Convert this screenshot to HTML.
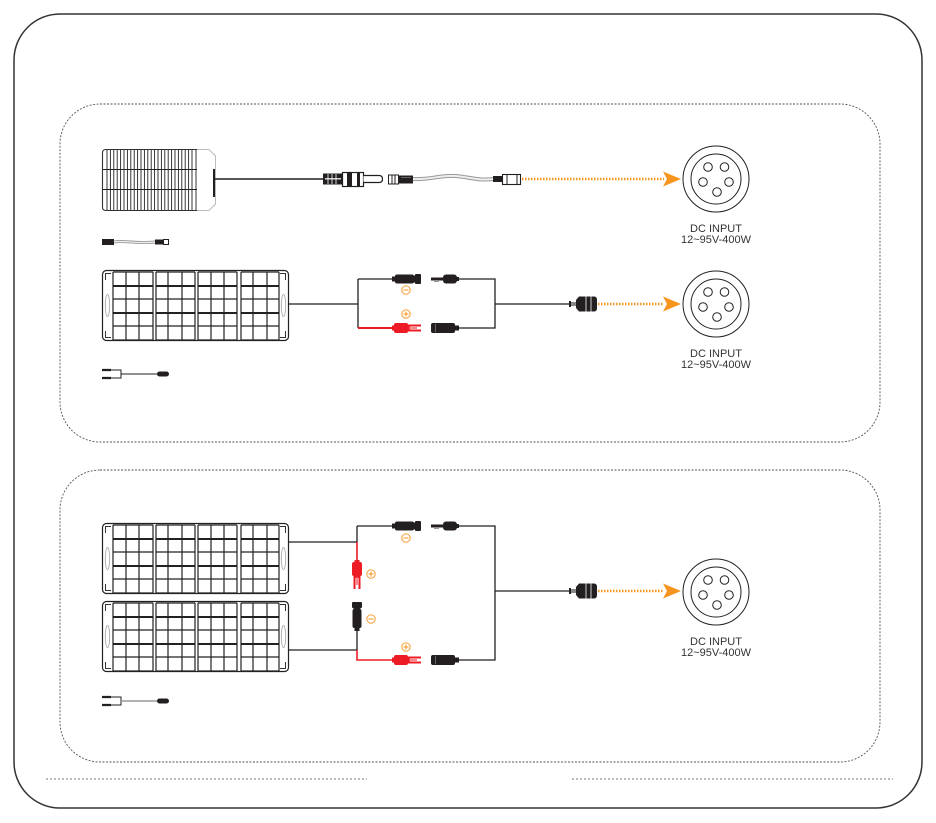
<!DOCTYPE html>
<html><head><meta charset="utf-8"><style>
html,body{margin:0;padding:0;background:#fff;}
svg{display:block;}
text{font-family:"Liberation Sans",sans-serif;font-size:11px;fill:#333;}
</style></head><body>
<svg width="936" height="823" viewBox="0 0 936 823" xmlns="http://www.w3.org/2000/svg">
<defs>
  <g id="panel">
    <rect x="0.5" y="0.5" width="186" height="70" rx="4" fill="#fff" stroke="#222" stroke-width="1.2"/>
    <path d="M3.5,10V3.5H9 M3.5,61V67.5H9 M183.5,10V3.5H178 M183.5,61V67.5H178" fill="none" stroke="#333" stroke-width="1"/>
    <ellipse cx="5.5" cy="35.5" rx="2.2" ry="11" fill="none" stroke="#aaa" stroke-width="0.9"/>
    <ellipse cx="181.5" cy="35.5" rx="2.2" ry="11" fill="none" stroke="#aaa" stroke-width="0.9"/>
    <path fill="none" stroke="#222" stroke-width="1.2" d="
      M11,2V70 M24,2V70 M37,2V70 M51,2V70 M11,2H51 M11,29H51 M11,56H51 M11,70H51
      M54,2V70 M66,2V70 M80,2V70 M93,2V70 M54,2H93 M54,29H93 M54,56H93 M54,70H93
      M96,2V70 M109,2V70 M122,2V70 M135,2V70 M96,2H135 M96,29H135 M96,56H135 M96,70H135
      M139,2V70 M151,2V70 M165,2V70 M177,2V70 M139,2H177 M139,29H177 M139,56H177 M139,70H177"/>
    <path fill="none" stroke="#222" stroke-width="2" d="M11,16H51 M11,43H51 M54,16H93 M54,43H93 M96,16H135 M96,43H135 M139,16H177 M139,43H177"/>
  </g>
  <g id="fem">
    <rect x="0" y="-2.5" width="4" height="5" fill="#231f20"/>
    <rect x="3" y="-4.5" width="19" height="9" rx="2" fill="#231f20"/>
    <rect x="21" y="-3.5" width="3" height="7" fill="#231f20"/>
    <rect x="23" y="-5" width="6" height="10" rx="1" fill="#231f20"/>
  </g>
  <g id="redm">
    <rect x="0" y="-2.5" width="3" height="5" fill="#ed1c24"/>
    <rect x="2" y="-5" width="14" height="10" rx="2" fill="#ed1c24"/>
    <rect x="15" y="-3.5" width="3" height="7" fill="#ed1c24"/>
    <rect x="17" y="-3.5" width="12" height="2" fill="#ed1c24"/>
    <rect x="17" y="1.5" width="12" height="2" fill="#ed1c24"/>
    <rect x="17" y="-0.8" width="8" height="1.6" fill="#f36a70"/>
  </g>
  <g id="malr">
    <rect x="0" y="-1.5" width="14" height="3" fill="#231f20"/>
    <rect x="3" y="2" width="5" height="1" fill="#999"/>
    <rect x="12" y="-4.5" width="14" height="9" rx="3" fill="#231f20"/>
    <rect x="25" y="-2" width="3" height="4" fill="#231f20"/>
  </g>
  <g id="femr">
    <rect x="0" y="-5" width="24" height="10" rx="2" fill="#231f20"/>
    <rect x="4" y="-4" width="1" height="8" fill="#666"/>
    <rect x="23" y="-2.5" width="5" height="5" fill="#231f20"/>
  </g>
  <g id="plug">
    <rect x="0" y="-3" width="2" height="6" fill="#231f20"/>
    <rect x="2" y="-2" width="5" height="4" fill="#888"/>
    <path d="M7,-4 L10,-7.5 H25 Q28,-7.5 28,-4 V4 Q28,7.5 25,7.5 H10 L7,4 Z" fill="#231f20"/>
    <rect x="16" y="-7.5" width="2" height="15" fill="#777"/>
    <rect x="21" y="-7.5" width="2" height="15" fill="#777"/>
  </g>
  <g id="dcin">
    <circle cx="0" cy="0" r="33" fill="#fff" stroke="#222" stroke-width="1"/>
    <circle cx="0" cy="0" r="25" fill="none" stroke="#222" stroke-width="1"/>
    <circle cx="-8" cy="-12" r="4.3" fill="none" stroke="#222" stroke-width="1"/>
    <circle cx="8.5" cy="-12" r="4.3" fill="none" stroke="#222" stroke-width="1"/>
    <circle cx="-13" cy="3" r="4.3" fill="none" stroke="#222" stroke-width="1"/>
    <circle cx="13" cy="3" r="4.3" fill="none" stroke="#222" stroke-width="1"/>
    <circle cx="1" cy="13" r="4.3" fill="none" stroke="#222" stroke-width="1"/>
  </g>
  <g id="minus"><circle r="4.2" fill="none" stroke="#f7941d" stroke-width="0.9"/><path d="M-2.5,0H2.5" stroke="#f7941d" stroke-width="1"/></g>
  <g id="plus"><circle r="4.2" fill="none" stroke="#f7941d" stroke-width="0.9"/><path d="M-2.5,0H2.5M0,-2.5V2.5" stroke="#f7941d" stroke-width="1"/></g>
  <g id="arrow"><polygon points="0,-7.5 18,0 0,7.5 4,0" fill="#f7941d"/></g>
  <g id="icon2">
    <path d="M0,-4H9 M0,4H9" stroke="#231f20" stroke-width="2.2"/>
    <path d="M9,-4H19V4H9 M19,0H55" fill="none" stroke="#231f20" stroke-width="1"/>
    <rect x="55" y="-2.5" width="12" height="5" rx="2.5" fill="#231f20"/>
  </g>
</defs>

<!-- outer frame -->
<rect x="14" y="14" width="908" height="794" rx="46" fill="none" stroke="#333" stroke-width="1.5"/>
<!-- dashed sections -->
<rect x="60" y="104" width="820" height="338" rx="40" fill="none" stroke="#555" stroke-width="0.9" stroke-dasharray="2 1.5"/>
<rect x="60" y="470" width="820" height="292" rx="40" fill="none" stroke="#555" stroke-width="0.9" stroke-dasharray="2 1.5"/>
<!-- bottom dotted lines -->
<path d="M46,779H367 M572,779H893" stroke="#777" stroke-width="0.9" stroke-dasharray="2 2"/>

<!-- ===== Section 1 row 1 ===== -->
<g transform="translate(102,149)">
  <path d="M4,0.5 H95 M4,61.5 H95 M0.5,4 V58 Q0.5,61.5 4,61.5 M0.5,4 Q0.5,0.5 4,0.5" fill="none" stroke="#333" stroke-width="1.1"/>
  <path d="M95,0.5 H107 L113.5,7 V55 L107,61.5 H95" fill="none" stroke="#bbb" stroke-width="1"/>
  <path fill="none" stroke="#222" stroke-width="0.9" d="M5,1V61 M8.4,1V61 M11.8,1V61 M15.2,1V61 M18.6,1V61 M22,1V61 M25.4,1V61 M28.8,1V61 M32.2,1V61 M35.6,1V61 M39,1V61 M42.4,1V61 M45.8,1V61 M49.2,1V61 M52.6,1V61 M56,1V61 M59.4,1V61 M62.8,1V61 M66.2,1V61 M69.6,1V61 M73,1V61 M76.4,1V61 M79.8,1V61 M83.2,1V61 M86.6,1V61 M90,1V61 M94,1V61"/>
  <path d="M1,20.5H95 M1,40.5H95" stroke="#222" stroke-width="1"/>
  <rect x="111" y="20" width="2" height="28" fill="#231f20"/>
</g>
<path d="M215,179H324" stroke="#231f20" stroke-width="1.5"/>
<!-- DC plug -->
<rect x="323" y="173.5" width="19" height="11" fill="#231f20"/>
<path d="M325,178.8H341" stroke="#fff" stroke-width="1.2"/>
<path d="M328,174V184 M332,174V184 M336,174V184" stroke="#fff" stroke-width="0.8"/>
<rect x="342.5" y="172.5" width="21" height="14" fill="#fff" stroke="#231f20" stroke-width="1.2"/>
<rect x="347" y="172.5" width="5" height="14" fill="#231f20"/>
<rect x="357" y="172.5" width="3" height="14" fill="#231f20"/>
<path d="M363.5,175.5 H379 Q382.5,175.5 382.5,179 Q382.5,182.5 379,182.5 H363.5" fill="#fff" stroke="#231f20" stroke-width="1.2"/>
<!-- adapter -->
<rect x="388.5" y="175" width="10" height="9" fill="#fff" stroke="#231f20" stroke-width="1"/>
<path d="M392,175V184 M395,175V184" stroke="#231f20" stroke-width="1"/>
<rect x="398" y="175.5" width="15" height="8" fill="#231f20"/>
<rect x="401" y="177" width="10" height="1" fill="#666"/>
<!-- gray cable -->
<path d="M413,179 C430,180 440,175 455,176 S478,181 493,179" fill="none" stroke="#999" stroke-width="4"/>
<path d="M413,179 C430,180 440,175 455,176 S478,181 493,179" fill="none" stroke="#eee" stroke-width="2"/>
<rect x="493" y="176" width="9" height="6" fill="#231f20"/>
<rect x="502.5" y="174.5" width="18" height="10" fill="#fff" stroke="#231f20" stroke-width="1.1"/>
<path d="M507,174.5V184.5 M517,174.5V184.5" stroke="#231f20" stroke-width="1"/>
<path d="M522,179H664" stroke="#f7941d" stroke-width="2.5" stroke-dasharray="1.5 1.5"/>
<use href="#arrow" x="663" y="179"/>
<use href="#dcin" x="716" y="179"/>
<text x="716" y="232" text-anchor="middle">DC INPUT</text>
<text x="716" y="243" text-anchor="middle">12~95V-400W</text>
<!-- small icon row 1 -->
<rect x="102" y="239" width="12" height="6" fill="#231f20"/>
<path d="M114,242 C125,240 135,244 155,242" fill="none" stroke="#999" stroke-width="3"/>
<path d="M114,242 C125,240 135,244 155,242" fill="none" stroke="#eee" stroke-width="1.2"/>
<rect x="155" y="239.5" width="8" height="5" fill="#231f20"/>
<rect x="163.5" y="239.5" width="5" height="5" fill="#fff" stroke="#231f20" stroke-width="1"/>

<!-- ===== Section 1 row 2 ===== -->
<use href="#panel" x="102" y="270"/>
<path d="M289,304H358 M358,279V328 M358,279H392 M459,279H495V328H459 M495,304H570" fill="none" stroke="#231f20" stroke-width="1.3"/>
<path d="M358,328H393" stroke="#ed1c24" stroke-width="2"/>
<use href="#fem" x="392" y="279"/>
<use href="#redm" x="392" y="328"/>
<use href="#malr" x="431" y="279"/>
<use href="#femr" x="431" y="328"/>
<use href="#minus" x="406" y="290"/>
<use href="#plus" x="406" y="314"/>
<use href="#plug" x="569" y="304"/>
<path d="M598,304H664" stroke="#f7941d" stroke-width="2.5" stroke-dasharray="1.5 1.5"/>
<use href="#arrow" x="663" y="304"/>
<use href="#dcin" x="716" y="304"/>
<text x="716" y="357" text-anchor="middle">DC INPUT</text>
<text x="716" y="368" text-anchor="middle">12~95V-400W</text>
<use href="#icon2" x="102" y="374"/>

<!-- ===== Section 2 ===== -->
<use href="#panel" x="102" y="523"/>
<use href="#panel" x="102" y="601"/>
<path d="M289,542H357 M289,650H357 M357,526V542 M357,526H392 M357,630V650 M459,526H495V660H459 M495,591H570" fill="none" stroke="#231f20" stroke-width="1.3"/>
<path d="M357,542V561 M357,650V660H393" fill="none" stroke="#ed1c24" stroke-width="1.6"/>
<use href="#fem" x="392" y="526"/>
<use href="#redm" x="392" y="660"/>
<use href="#malr" x="431" y="526"/>
<use href="#femr" x="431" y="660"/>
<use href="#minus" x="406" y="538"/>
<use href="#plus" x="406" y="647"/>
<g transform="translate(357,560) rotate(90)"><use href="#redm"/></g>
<g transform="translate(357,631) rotate(-90)"><use href="#fem"/></g>
<use href="#plus" x="371" y="574"/>
<use href="#minus" x="371" y="619"/>
<use href="#plug" x="569" y="591"/>
<path d="M598,591H664" stroke="#f7941d" stroke-width="2.5" stroke-dasharray="1.5 1.5"/>
<use href="#arrow" x="663" y="591"/>
<use href="#dcin" x="716" y="592"/>
<text x="716" y="645" text-anchor="middle">DC INPUT</text>
<text x="716" y="656" text-anchor="middle">12~95V-400W</text>
<g transform="translate(102,701)">
  <path d="M0,-4H9 M0,4H9" stroke="#231f20" stroke-width="2.2"/>
  <path d="M9,-4H19V4H9" fill="none" stroke="#231f20" stroke-width="1"/>
  <path d="M19,0H55" stroke="#999" stroke-width="1.6"/>
  <rect x="55" y="-2.5" width="12" height="5" rx="2.5" fill="#231f20"/>
</g>
</svg>
</body></html>
